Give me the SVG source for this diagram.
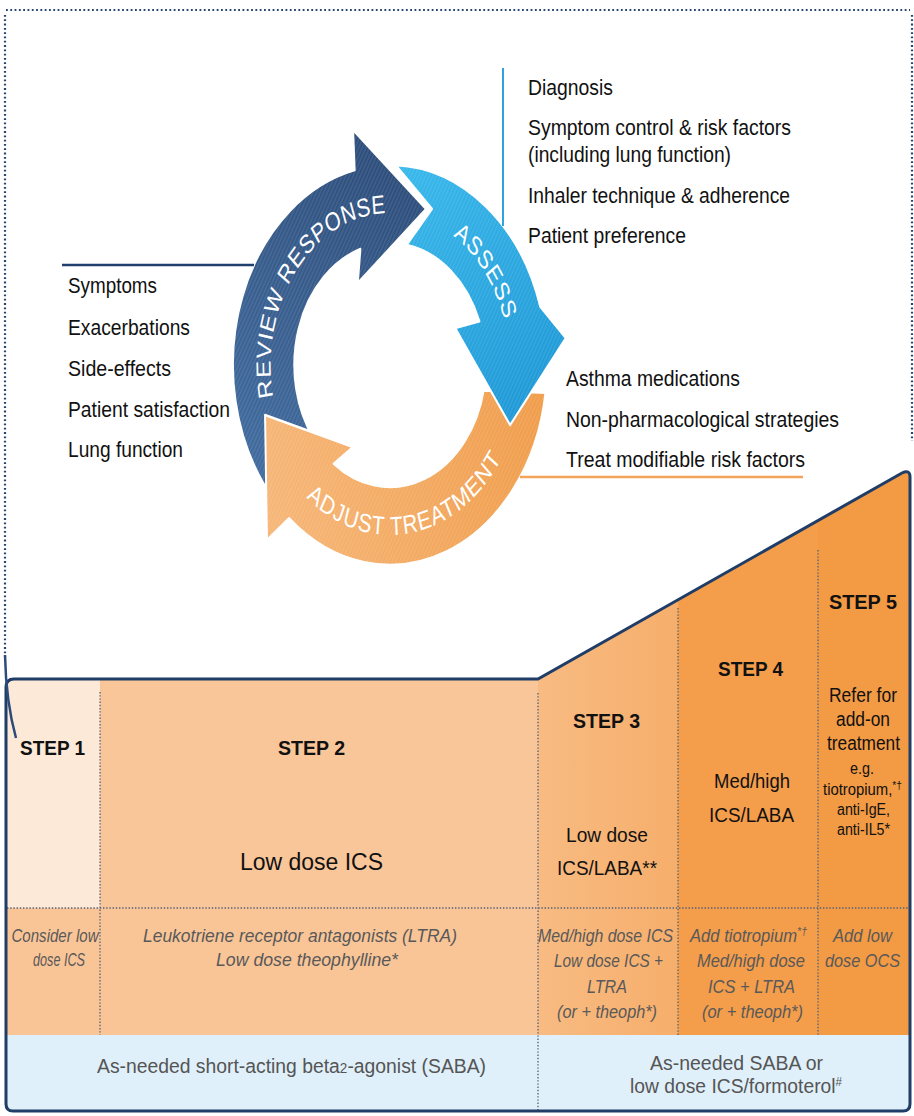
<svg xmlns="http://www.w3.org/2000/svg" width="914" height="1116" viewBox="0 0 914 1116">
<style>
  text { font-family: "Liberation Sans", Arial, sans-serif; }
  .lst { font-size: 22px; fill: #111; }
  .step { font-size: 21px; font-weight: bold; fill: #111; text-anchor: middle; }
  .main { font-size: 21px; fill: #111; text-anchor: middle; }
  .sm { font-size: 16px; fill: #111; text-anchor: middle; }
  .alt { font-size: 17.5px; font-style: italic; fill: #595959; text-anchor: middle; }
  .bar { font-size: 20px; fill: #555; text-anchor: middle; }
  .ring { font-size: 26px; fill: #fff; letter-spacing: 0.8px; }
  .dots { fill: none; stroke: #27446d; stroke-width: 2.2; stroke-dasharray: 1.8 2.5; }
  .div { fill: none; stroke: #4f5f7c; stroke-width: 1.3; stroke-dasharray: 1.4 1.8; }
  .arrow { stroke: #fff; stroke-width: 2.5; stroke-linejoin: round; }
  .hatch { fill: url(#hatch); }
</style>
<defs>
  <linearGradient id="gBlue" gradientUnits="userSpaceOnUse" x1="220" y1="480" x2="440" y2="150">
    <stop offset="0" stop-color="#416c9f"/>
    <stop offset="1" stop-color="#2b4a77"/>
  </linearGradient>
  <linearGradient id="gCyan" gradientUnits="userSpaceOnUse" x1="400" y1="170" x2="560" y2="420">
    <stop offset="0" stop-color="#38b8eb"/>
    <stop offset="1" stop-color="#1e98d6"/>
  </linearGradient>
  <linearGradient id="gOrange" gradientUnits="userSpaceOnUse" x1="580" y1="400" x2="230" y2="470">
    <stop offset="0" stop-color="#f09d4b"/>
    <stop offset="1" stop-color="#f6b677"/>
  </linearGradient>
  <linearGradient id="gStep3" x1="0" y1="0" x2="1" y2="0">
    <stop offset="0" stop-color="#f8bb82"/>
    <stop offset="1" stop-color="#f6ae6b"/>
  </linearGradient>
  <pattern id="hatch" width="4" height="4" patternUnits="userSpaceOnUse" patternTransform="rotate(30)">
    <line x1="1" y1="0" x2="1" y2="4" stroke="#fff" stroke-opacity="0.13" stroke-width="1.2"/>
  </pattern>

  <!-- cycle arrows, drawn in a circle frame that is squeezed horizontally -->
  <path id="arrowReview" d="M230.3,485.4 A200,200 0 0,1 345,170.1 L343,130 L436,209 L349,283 L352.3,249 A122,122 0 0,0 292.6,438.4 Z"/>
  <path id="arrowAssess" d="M397,165 A200,200 0 0,1 581.3,306.5 L614,338 L543,425 L473,328 L503.9,321.3 A122,122 0 0,0 411.2,244.9 L443.5,209 Z"/>
  <path id="arrowAdjust" d="M588,392.8 A200,200 0 0,1 261.4,518.2 L233.3,540 L230.8,415 L342.9,447 L318.3,463.7 A122,122 0 0,0 509.3,390.4 Z"/>
  <path id="pReview" d="M242.5,401.8 A152,152 0 0,1 390,213"/>
  <path id="pAssess" d="M454.2,227.2 A152,152 0 0,1 539.7,338.6"/>
  <path id="pAdjust" d="M259.8,474.3 A170,170 0 0,0 547.6,428.7"/>

  <path id="stairShape" d="M6,687 Q6,679 14,679 L538,679 L902,473 Q910,469 910,477 L910,1104 Q910,1111 903,1111 L13,1111 Q6,1111 6,1104 Z"/>
  <clipPath id="stairClip"><use href="#stairShape"/></clipPath>
</defs>

<rect width="914" height="1116" fill="#fff"/>

<!-- dotted frame around the cycle -->
<g id="frame">
  <path class="dots" d="M6,10 H910"/>
  <path class="dots" d="M5,15 V657"/>
  <path class="dots" d="M912,15 V441"/>
</g>

<!-- management cycle -->
<g id="cycle" transform="matrix(0.785 0 0 1 83.85 0)">
  <g id="review-response">
    <use href="#arrowReview" class="arrow" fill="url(#gBlue)"/>
    <use href="#arrowReview" class="hatch"/>
    <text class="ring"><textPath href="#pReview" startOffset="50%" text-anchor="middle">REVIEW RESPONSE</textPath></text>
  </g>
  <g id="adjust-treatment">
    <use href="#arrowAdjust" class="arrow" fill="url(#gOrange)"/>
    <use href="#arrowAdjust" class="hatch"/>
    <text class="ring" style="letter-spacing:1.2px"><textPath href="#pAdjust" startOffset="50%" text-anchor="middle">ADJUST TREATMENT</textPath></text>
  </g>
  <g id="assess">
    <use href="#arrowAssess" class="arrow" fill="url(#gCyan)"/>
    <use href="#arrowAssess" class="hatch"/>
    <text class="ring"><textPath href="#pAssess" startOffset="50%" text-anchor="middle">ASSESS</textPath></text>
  </g>
</g>

<!-- items reviewed -->
<g id="review-items" class="lst">
  <text x="68" y="293" textLength="89" lengthAdjust="spacingAndGlyphs">Symptoms</text>
  <text x="68" y="335" textLength="122" lengthAdjust="spacingAndGlyphs">Exacerbations</text>
  <text x="68" y="376" textLength="103" lengthAdjust="spacingAndGlyphs">Side-effects</text>
  <text x="68" y="417" textLength="162" lengthAdjust="spacingAndGlyphs">Patient satisfaction</text>
  <text x="68" y="457" textLength="115" lengthAdjust="spacingAndGlyphs">Lung function</text>
</g>

<!-- items assessed -->
<g id="assess-items" class="lst">
  <text x="528" y="95" textLength="85" lengthAdjust="spacingAndGlyphs">Diagnosis</text>
  <text x="528" y="135" textLength="263" lengthAdjust="spacingAndGlyphs">Symptom control &amp; risk factors</text>
  <text x="528" y="162" textLength="203" lengthAdjust="spacingAndGlyphs">(including lung function)</text>
  <text x="528" y="203" textLength="262" lengthAdjust="spacingAndGlyphs">Inhaler technique &amp; adherence</text>
  <text x="528" y="243" textLength="158" lengthAdjust="spacingAndGlyphs">Patient preference</text>
</g>

<!-- treatment adjustments -->
<g id="adjust-items" class="lst">
  <text x="566" y="386" textLength="174" lengthAdjust="spacingAndGlyphs">Asthma medications</text>
  <text x="566" y="427" textLength="273" lengthAdjust="spacingAndGlyphs">Non-pharmacological strategies</text>
  <text x="566" y="467" textLength="239" lengthAdjust="spacingAndGlyphs">Treat modifiable risk factors</text>
</g>

<!-- stepwise treatment table -->
<g id="treatment-steps">
  <g clip-path="url(#stairClip)">
    <rect x="0" y="440" width="100" height="468" fill="#fde9d8"/>
    <rect x="100" y="440" width="438" height="468" fill="#f9c699"/>
    <rect x="0" y="908" width="538" height="127" fill="#f9c597"/>
    <rect x="538" y="440" width="140" height="595" fill="url(#gStep3)"/>
    <rect x="678" y="440" width="140" height="595" fill="#f49d4b"/>
    <rect x="818" y="440" width="100" height="595" fill="#f39a44"/>
    <rect x="0" y="1035" width="914" height="80" fill="#e0f0fa"/>
  </g>
  <g id="dividers">
    <path class="div" d="M7,908 H909"/>
    <path class="div" d="M100,692 V1035"/>
    <path class="div" d="M538,693 V1110"/>
    <path class="div" d="M678,608 V1035"/>
    <path class="div" d="M818,550 V1035"/>
  </g>
  <use href="#stairShape" fill="none" stroke="#1f3d66" stroke-width="3"/>

  <g id="step-1">
    <text class="step" x="52.5" y="755" textLength="65" lengthAdjust="spacingAndGlyphs">STEP 1</text>
    <text class="alt" x="55" y="942" textLength="87" lengthAdjust="spacingAndGlyphs">Consider low</text>
    <text class="alt" x="59" y="966" textLength="52" lengthAdjust="spacingAndGlyphs">dose ICS</text>
  </g>
  <g id="step-2">
    <text class="step" x="311.5" y="755" textLength="67" lengthAdjust="spacingAndGlyphs">STEP 2</text>
    <text class="main" x="311.5" y="870" style="font-size:23px" textLength="143" lengthAdjust="spacingAndGlyphs">Low dose ICS</text>
    <text class="alt" x="300" y="942" textLength="314" lengthAdjust="spacingAndGlyphs">Leukotriene receptor antagonists (LTRA)</text>
    <text class="alt" x="307" y="966" textLength="182" lengthAdjust="spacingAndGlyphs">Low dose theophylline*</text>
  </g>
  <g id="step-3">
    <text class="step" x="606.5" y="728" textLength="67" lengthAdjust="spacingAndGlyphs">STEP 3</text>
    <text class="main" x="607" y="842" textLength="82" lengthAdjust="spacingAndGlyphs">Low dose</text>
    <text class="main" x="607" y="875" textLength="100" lengthAdjust="spacingAndGlyphs">ICS/LABA**</text>
    <text class="alt" x="605.5" y="942" textLength="135" lengthAdjust="spacingAndGlyphs">Med/high dose ICS</text>
    <text class="alt" x="608.5" y="967" textLength="109" lengthAdjust="spacingAndGlyphs">Low dose ICS +</text>
    <text class="alt" x="607" y="993" textLength="40" lengthAdjust="spacingAndGlyphs">LTRA</text>
    <text class="alt" x="607" y="1018" textLength="100" lengthAdjust="spacingAndGlyphs">(or + theoph*)</text>
  </g>
  <g id="step-4">
    <text class="step" x="750.5" y="676" textLength="65" lengthAdjust="spacingAndGlyphs">STEP 4</text>
    <text class="main" x="752" y="788" textLength="76" lengthAdjust="spacingAndGlyphs">Med/high</text>
    <text class="main" x="751.5" y="822" textLength="85" lengthAdjust="spacingAndGlyphs">ICS/LABA</text>
    <text class="alt" x="748.5" y="942" textLength="117" lengthAdjust="spacingAndGlyphs">Add tiotropium<tspan font-size="11" dy="-7">*†</tspan></text>
    <text class="alt" x="751" y="967" textLength="108" lengthAdjust="spacingAndGlyphs">Med/high dose</text>
    <text class="alt" x="751.5" y="993" textLength="87" lengthAdjust="spacingAndGlyphs">ICS + LTRA</text>
    <text class="alt" x="752.5" y="1018" textLength="101" lengthAdjust="spacingAndGlyphs">(or + theoph*)</text>
  </g>
  <g id="step-5">
    <text class="step" x="863" y="609" textLength="68" lengthAdjust="spacingAndGlyphs">STEP 5</text>
    <text class="main" x="863" y="702" style="font-size:20px" textLength="68" lengthAdjust="spacingAndGlyphs">Refer for</text>
    <text class="main" x="863" y="726" style="font-size:20px" textLength="54" lengthAdjust="spacingAndGlyphs">add-on</text>
    <text class="main" x="863.5" y="750" style="font-size:20px" textLength="73" lengthAdjust="spacingAndGlyphs">treatment</text>
    <text class="sm" x="862" y="774" textLength="24" lengthAdjust="spacingAndGlyphs">e.g.</text>
    <text class="sm" x="862.5" y="795" textLength="79" lengthAdjust="spacingAndGlyphs">tiotropium,<tspan font-size="11" dy="-6">*†</tspan></text>
    <text class="sm" x="863.5" y="815" textLength="53" lengthAdjust="spacingAndGlyphs">anti-IgE,</text>
    <text class="sm" x="863.5" y="835" textLength="53" lengthAdjust="spacingAndGlyphs">anti-IL5*</text>
    <text class="alt" x="862.5" y="942" textLength="59" lengthAdjust="spacingAndGlyphs">Add low</text>
    <text class="alt" x="862.5" y="967" textLength="75" lengthAdjust="spacingAndGlyphs">dose OCS</text>
  </g>
  <g id="reliever">
    <text class="bar" x="291.5" y="1073" textLength="389" lengthAdjust="spacingAndGlyphs">As-needed short-acting beta<tspan font-size="14">2</tspan>-agonist (SABA)</text>
    <text class="bar" x="736.5" y="1070" textLength="173" lengthAdjust="spacingAndGlyphs">As-needed SABA or</text>
    <text class="bar" x="736" y="1093" textLength="212" lengthAdjust="spacingAndGlyphs">low dose ICS/formoterol<tspan font-size="12" dy="-7">#</tspan></text>
  </g>
</g>

<!-- leader lines -->
<g id="connectors" fill="none">
  <path d="M62,265 H254" stroke="#1f3f6e" stroke-width="2.5"/>
  <path d="M503,68 V226" stroke="#2ea3dc" stroke-width="2"/>
  <path d="M520,477 H803" stroke="#f4a45a" stroke-width="2.5"/>
  <path d="M5,655 Q6,702 16,738" stroke="#2b4c7a" stroke-width="2.5"/>
</g>
</svg>
